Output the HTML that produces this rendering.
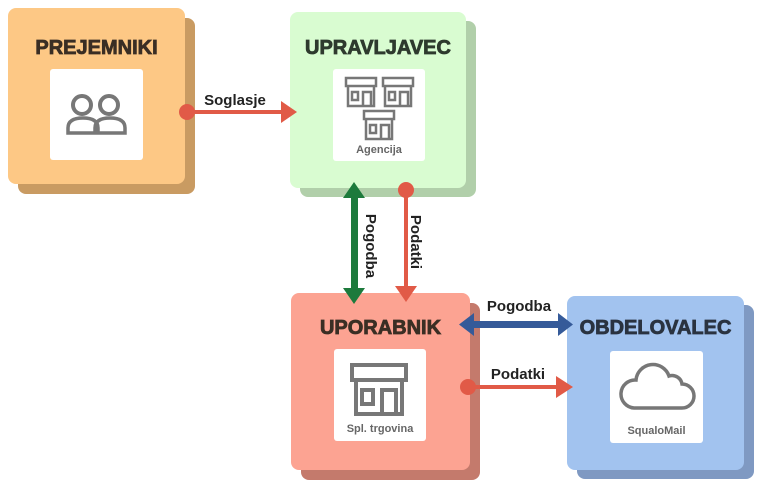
<!DOCTYPE html>
<html><head><style>
body{margin:0;width:767px;height:487px;background:#fff;position:relative;overflow:hidden;font-family:"Liberation Sans",sans-serif}
.b{position:absolute;border-radius:8px}
.w{position:absolute;background:#fff;border-radius:3px}
.t{position:absolute;font-weight:bold;font-size:20px;color:#3a2e24;text-align:center;letter-spacing:0px;-webkit-text-stroke:0.8px currentColor}
.s{position:absolute;font-size:11px;font-weight:bold;color:#666;text-align:center}
</style></head><body>
<div class="b" style="left:18px;top:18px;width:177px;height:176px;background:#c99b62"></div>
<div class="b" style="left:8px;top:8px;width:177px;height:176px;background:#fdc885"></div>
<div class="w" style="left:50px;top:69px;width:93px;height:91px"></div>
<div class="t" style="left:8px;top:37px;width:177px">PREJEMNIKI</div>

<div class="b" style="left:300px;top:21px;width:176px;height:176px;background:#b1cfaa"></div>
<div class="b" style="left:290px;top:12px;width:176px;height:176px;background:#d9fcd1"></div>
<div class="w" style="left:333px;top:69px;width:92px;height:92px"></div>
<div class="t" style="left:290px;top:37px;width:176px;color:#2e3a2e">UPRAVLJAVEC</div>
<div class="s" style="left:333px;top:144px;width:92px">Agencija</div>

<div class="b" style="left:301px;top:303px;width:179px;height:177px;background:#c47a6c"></div>
<div class="b" style="left:291px;top:293px;width:179px;height:177px;background:#fca392"></div>
<div class="w" style="left:334px;top:349px;width:92px;height:92px"></div>
<div class="t" style="left:291px;top:317px;width:179px">UPORABNIK</div>
<div class="s" style="left:334px;top:423px;width:92px">Spl. trgovina</div>

<div class="b" style="left:577px;top:305px;width:177px;height:174px;background:#7f99c2"></div>
<div class="b" style="left:567px;top:296px;width:177px;height:174px;background:#a2c3ef"></div>
<div class="w" style="left:610px;top:351px;width:93px;height:92px"></div>
<div class="t" style="left:567px;top:317px;width:177px;color:#2a3340">OBDELOVALEC</div>
<div class="s" style="left:610px;top:425px;width:93px">SqualoMail</div>

<svg width="767" height="487" style="position:absolute;left:0;top:0" font-family="Liberation Sans" font-weight="bold" font-size="15">
<g fill="none" stroke="#777" stroke-width="4">
<circle cx="82" cy="105" r="9"/><circle cx="109" cy="105" r="9"/>
<path d="M68 133 v-5 q0-10 15-10 q15 0 15 10 v5 z M95 133 v-5 q0-10 15-10 q15 0 15 10 v5 z" stroke-width="3.5"/>
</g>
<g fill="none" stroke="#777" stroke-width="2.5">
<g id="st"><rect x="346" y="78" width="30" height="8"/><path d="M348 86 v20 h26 v-20 M352 92 h6 v8 h-6z M363 106 v-14 h8 v14"/></g>
<use href="#st" x="37"/><use href="#st" x="18" y="33"/>
<rect x="352" y="365" width="54" height="15" stroke-width="4"/><path d="M356 380 v34 h46 v-34 M362 390 h11 v14 h-11z M382 414 v-24 h14 v24" stroke-width="4"/>
<path d="M634 408 h48 a12 12 0 0 0 0-24 a10 10 0 0 0-13-8 a17 17 0 0 0-33 4 a14 14 0 0 0-2 28z" stroke-width="3.5"/>
</g>
<g fill="#e15a47" stroke="#e15a47">
<circle cx="187" cy="112" r="8" stroke="none"/><line x1="187" y1="112" x2="283" y2="112" stroke-width="4"/><path d="M281 101 L297 112 L281 123z" stroke="none"/>
<circle cx="406" cy="190" r="8" stroke="none"/><line x1="406" y1="190" x2="406" y2="288" stroke-width="4"/><path d="M395 286 L406 302 L417 286z" stroke="none"/>
<circle cx="468" cy="387" r="8" stroke="none"/><line x1="468" y1="387" x2="560" y2="387" stroke-width="4"/><path d="M556 376 L573 387 L556 398z" stroke="none"/>
</g>
<g fill="#1d7a3c"><rect x="351" y="195" width="7" height="95"/><path d="M343 198 L354 182 L365 198z M343 288 L354 304 L365 288z"/></g>
<g fill="#355a99"><rect x="470" y="321" width="92" height="7"/><path d="M474 313 L459 324.5 L474 336z M558 313 L573 324.5 L558 336z"/></g>
<g fill="#222">
<text x="235" y="105" text-anchor="middle">Soglasje</text>
<text x="519" y="311" text-anchor="middle">Pogodba</text>
<text x="518" y="379" text-anchor="middle">Podatki</text>
<text transform="translate(366,246) rotate(90)" text-anchor="middle">Pogodba</text>
<text transform="translate(411,242) rotate(90)" text-anchor="middle">Podatki</text>
</g>
</svg>
</body></html>
